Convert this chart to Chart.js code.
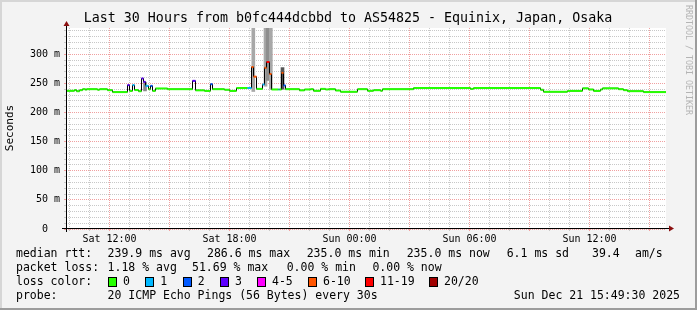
<!DOCTYPE html>
<html>
<head>
<meta charset="utf-8">
<script src="https://cdn.jsdelivr.net/npm/chart.js@4.4.1/dist/chart.umd.min.js"></script>
<style>
  html, body { margin: 0; padding: 0; background: #f3f3f3; }
  canvas { display: block; }
</style>
</head>
<body>
<canvas id="chart" width="697" height="310"></canvas>
<script>
// Smokeping style latency graph, last 30 hours

// median rtt steps: hour of day (from Sat 00:00), median ms, lost pings out of 20
const hours = [9.825, 10.25, 10.35, 10.5, 10.65, 10.8, 10.85, 11.4, 11.5, 11.9, 12.15, 12.9, 13.0, 13.15, 13.25,
  13.45, 13.6, 13.7, 13.8, 13.95, 14.05, 14.15, 14.3, 14.9, 16.15, 16.3, 16.75, 17.05, 17.15, 17.75,
  18.0, 18.35, 18.9, 19.1, 19.2, 19.35, 19.65, 19.75, 19.85, 20.0, 20.1, 20.45, 20.5, 20.6, 20.7,
  20.8, 21.5, 21.75, 22.05, 22.2, 22.55, 22.8, 22.95, 23.3, 23.55, 24.4, 24.9, 25.2, 25.55, 25.65,
  27.2, 30.05, 30.2, 33.55, 33.7, 34.9, 35.65, 35.95, 36.2, 36.55, 36.65, 37.45, 37.7, 37.9, 38.7, 39.825];
const medianMs = [237.2, 238.5, 236.5, 238.3, 240, 239, 240, 239, 240, 238.3, 235, 247, 237, 247, 238.5,
  236.5, 258.4, 252.6, 245.7, 240, 245.7, 237, 241.2, 240, 254.3, 238, 237, 248.6, 240, 239,
  237, 242, 242, 278, 261.5, 240.5, 248, 276.7, 286.6, 266, 239.5, 239.5, 239.5, 268, 246.4,
  240, 238, 239.5, 240, 237.2, 240.5, 239.5, 240, 237.7, 235.5, 240, 237.2, 238.3, 237.2, 240,
  242, 240.5, 242, 239, 235.5, 237, 241.5, 239.5, 237, 239.5, 241.5, 240, 238.3, 236.6, 235, 235];
const lossPings = [0, 0, 0, 0, 0, 0, 0, 0, 0, 0, 0, 3, 0, 1, 0,
  0, 3, 3, 1, 0, 2, 0, 0, 0, 3, 0, 0, 2, 0, 0,
  0, 0, 1, 8, 8, 0, 1, 8, 15, 8, 0, 1, 0, 8, 2,
  0, 0, 0, 0, 0, 0, 0, 0, 0, 0, 0, 0, 0, 0, 0,
  0, 0, 0, 0, 0, 0, 0, 0, 0, 0, 0, 0, 0, 0, 0, 0];

// smoke (spread of the single pings) where it shows
const smokeHours = [13.775, 19.19, 19.8, 19.91, 20.065, 20.65];
const smokeLo = [237, 236, 245, 255, 240, 240];
const smokeHi = [252, 360, 360, 360, 360, 277];

const xTickHours = [12, 18, 24, 30, 36];
const xTickLabels = ['Sat 12:00', 'Sat 18:00', 'Sun 00:00', 'Sun 06:00', 'Sun 12:00'];
const yMax = 345;

const lossLabels = ['0', '1', '2', '3', '4-5', '6-10', '11-19', '20/20'];
const lossColors = ['#26ff00', '#00b8ff', '#0059ff', '#5e00ff', '#ff00ff', '#ff5500', '#ff0000', '#a00000'];
const smokeColors = ['#8a8a8a', '#a8a8a8', '#a8a8a8', '#8e8e8e', '#a8a8a8', '#555555'];

const rttStats = ['239.9 ms avg', '286.6 ms max', '235.0 ms min', '235.0 ms now', '6.1 ms sd', '39.4', 'am/s'];
const lossStats = ['1.18 % avg', '51.69 % max', '0.00 % min', '0.00 % now'];
const probeText = '20 ICMP Echo Pings (56 Bytes) every 30s';
const stampText = 'Sun Dec 21 15:49:30 2025';
const titleText = 'Last 30 Hours from b0fc444dcbbd to AS54825 - Equinix, Japan, Osaka';

const MONO = '"DejaVu Sans Mono", monospace';

function lossIndex(n) {
  if (n <= 3) return n;
  if (n <= 5) return 4;
  if (n <= 10) return 5;
  if (n <= 19) return 6;
  return 7;
}

// black step line gives the vertical joins, coloured pieces go on top
const stepPoints = hours.map((h, i) => ({ x: h, y: medianMs[i] }));
const pieces = [];
for (let i = 0; i < hours.length - 1; i++) {
  pieces.push({ x: hours[i], y: medianMs[i], loss: lossPings[i] });
  pieces.push({ x: hours[i + 1], y: medianMs[i], loss: lossPings[i] });
  pieces.push({ x: hours[i + 1], y: null, loss: 0 });
}
const smoke = smokeHours.map((h, i) => ({ x: h, y: [smokeLo[i], smokeHi[i]] }));

const gridHours = [];
for (let h = 10; h <= 39; h++) gridHours.push(h);
const gridMs = [];
for (let v = 0; v < yMax; v += 10) gridMs.push(v);

const minorGrid = '#c8c8c8';
const majorGrid = '#f0a0a0';

const framePlugin = {
  id: 'frame',
  beforeDraw(chart) {
    const { ctx, chartArea: a, width, height } = chart;
    ctx.save();
    ctx.fillStyle = '#f3f3f3';
    ctx.fillRect(0, 0, width, height);
    ctx.fillStyle = '#d6d6d6';
    ctx.fillRect(0, 0, width, 2);
    ctx.fillRect(0, 0, 2, height);
    ctx.fillStyle = '#9c9c9c';
    ctx.fillRect(width - 2, 0, 2, height);
    ctx.fillRect(0, height - 2, width, 2);
    ctx.fillStyle = '#ffffff';
    ctx.fillRect(a.left, a.top, a.right - a.left, a.bottom - a.top);
    ctx.restore();
  }
};

const decorPlugin = {
  id: 'decor',
  afterDraw(chart) {
    const { ctx, chartArea: a } = chart;
    const y0 = chart.scales.y.getPixelForValue(0);
    const xl = chart.scales.x.left;
    ctx.save();
    // axes
    ctx.strokeStyle = '#000';
    ctx.lineWidth = 1;
    ctx.beginPath();
    ctx.moveTo(a.left - 4, Math.round(y0) - 0.5);
    ctx.lineTo(a.right + 5, Math.round(y0) - 0.5);
    ctx.moveTo(xl + 0.5, y0 + 3);
    ctx.lineTo(xl + 0.5, a.top - 4);
    ctx.stroke();
    ctx.fillStyle = '#8b1010';
    ctx.beginPath();
    ctx.moveTo(xl + 0.5, a.top - 7);
    ctx.lineTo(xl - 2.5, a.top - 2);
    ctx.lineTo(xl + 3.5, a.top - 2);
    ctx.closePath();
    ctx.fill();
    ctx.beginPath();
    ctx.moveTo(a.right + 8, Math.round(y0) - 0.5);
    ctx.lineTo(a.right + 3, Math.round(y0) - 3.5);
    ctx.lineTo(a.right + 3, Math.round(y0) + 2.5);
    ctx.closePath();
    ctx.fill();

    // title
    ctx.fillStyle = '#000';
    ctx.textBaseline = 'middle';
    ctx.textAlign = 'center';
    ctx.font = '13.3px ' + MONO;
    ctx.fillText(titleText, 348, 19);

    // vertical axis title
    ctx.save();
    ctx.translate(10, 128);
    ctx.rotate(-Math.PI / 2);
    ctx.font = '11px ' + MONO;
    ctx.fillText('Seconds', 0, 0);
    ctx.restore();

    // watermark
    ctx.save();
    ctx.translate(688, 60);
    ctx.rotate(Math.PI / 2);
    ctx.fillStyle = '#b4b4b4';
    ctx.font = '8.3px ' + MONO;
    ctx.fillText('RRDTOOL / TOBI OETIKER', 0, 0);
    ctx.restore();

    // legend
    ctx.textAlign = 'left';
    ctx.font = '11.5px ' + MONO;
    ctx.fillText('median rtt:', 16, 254);
    [107.6, 207, 306.7, 406.7, 506.7, 592, 635].forEach((x, i) => ctx.fillText(rttStats[i], x, 254));
    ctx.fillText('packet loss:', 16, 268);
    [107.6, 192, 286.7, 372.4].forEach((x, i) => ctx.fillText(lossStats[i], x, 268));
    ctx.fillText('loss color:', 16, 282);
    [108, 145.3, 182.7, 220, 257, 308, 365, 429].forEach((x, i) => {
      const sx = Math.round(x);
      ctx.fillStyle = '#000';
      ctx.fillRect(sx, 277, 9, 10);
      ctx.fillStyle = lossColors[i];
      ctx.fillRect(sx + 1, 278, 7, 8);
      ctx.fillStyle = '#000';
      ctx.fillText(lossLabels[i], x + 15, 282);
    });
    ctx.fillText('probe:', 16, 296);
    ctx.fillText(probeText, 107.6, 296);
    ctx.textAlign = 'right';
    ctx.fillText(stampText, 680, 296);
    ctx.restore();
  }
};

new Chart(document.getElementById('chart'), {
  type: 'line',
  data: {
    datasets: [
      {
        type: 'bar',
        data: smoke,
        backgroundColor: smokeColors,
        barThickness: 3,
        borderWidth: 0,
        order: 3
      },
      {
        data: stepPoints,
        stepped: true,
        borderColor: '#000',
        borderWidth: 1,
        pointRadius: 0,
        order: 2
      },
      {
        data: pieces,
        borderWidth: 2,
        borderCapStyle: 'butt',
        pointRadius: 0,
        spanGaps: false,
        borderColor: lossColors[0],
        segment: {
          borderColor: c => lossColors[lossIndex(pieces[c.p0DataIndex].loss)]
        },
        order: 1
      }
    ]
  },
  options: {
    responsive: false,
    animation: false,
    events: [],
    layout: { padding: { top: 28, right: 31, bottom: 65, left: 0 } },
    plugins: { legend: { display: false }, tooltip: { enabled: false } },
    scales: {
      x: {
        type: 'linear',
        min: hours[0],
        max: hours[hours.length - 1],
        offset: false,
        afterBuildTicks: s => { s.ticks = gridHours.map(v => ({ value: v })); },
        afterFit: s => { s.height = 16; },
        grid: {
          offset: false,
          tickLength: 2,
          color: c => (c.tick && c.tick.value % 3 === 0 ? majorGrid : minorGrid)
        },
        border: { display: false, dash: [1, 1] },
        ticks: {
          autoSkip: false,
          maxRotation: 0,
          padding: 2,
          color: '#000',
          font: { family: MONO, size: 10 },
          callback: v => {
            const k = xTickHours.indexOf(v);
            return k >= 0 ? xTickLabels[k] : '';
          }
        }
      },
      y: {
        type: 'linear',
        min: 0,
        max: yMax,
        afterBuildTicks: s => { s.ticks = gridMs.map(v => ({ value: v })); },
        afterFit: s => { s.width = 66; },
        grid: {
          tickLength: 2,
          color: c => (c.tick && c.tick.value % 50 === 0 ? majorGrid : minorGrid)
        },
        border: { display: false, dash: [1, 1] },
        ticks: {
          autoSkip: false,
          padding: 4,
          color: '#000',
          font: { family: MONO, size: 10 },
          callback: v => (v % 50 === 0 ? (v === 0 ? '0  ' : v + ' m') : '')
        }
      }
    }
  },
  plugins: [framePlugin, decorPlugin]
});
</script>
</body>
</html>
